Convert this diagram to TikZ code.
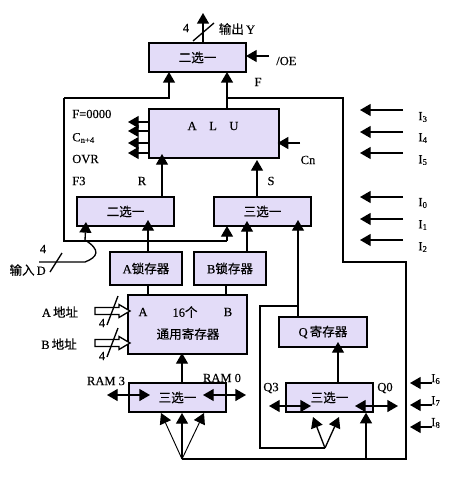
\documentclass[tikz,border=0pt]{standalone}
\usepackage{fontspec}
\setmainfont{Liberation Serif}[FakeBold=0.25]
\newfontfamily\cjk{Noto Sans CJK SC}[FakeBold=0.3]
\usetikzlibrary{arrows.meta}
\definecolor{boxfill}{RGB}{227,220,248}
\tikzset{
  blockbox/.style 2 args={draw=black,fill=boxfill,line width=1.5pt,inner sep=0pt,outer sep=0pt,
     minimum width=#1*0.75pt,minimum height=#2*0.75pt,font=\fontsize{9.4}{11}\selectfont},
  lab/.style={inner sep=0pt,font=\fontsize{9.4}{11}\selectfont},
  wire/.style={line width=1pt},
  arr/.style={wire,-{Triangle[length=8pt,width=9pt]}},
  darr/.style={wire,{Triangle[length=8pt,width=9pt]}-{Triangle[length=8pt,width=9pt]}},
  fan/.style={line width=0.7pt,-{Triangle[length=8pt,width=9pt]}},
  hollow/.style={fill=white,draw=black,line width=1pt,line join=miter},
}
\begin{document}
\begin{tikzpicture}[x=0.75pt,y=-0.75pt]
\useasboundingbox (0,0) rectangle (460,478);
% blocks
\node[blockbox={97}{29}] (top) at (197.5,57.5) {};
\node[lab] at (top.center) {\cjk 二选一};
\node[blockbox={130}{49}] (alu) at (214,133.5) {};
\node[lab] (alut) at (213,126) {A\hspace{1em}L\hspace{1em}U};
\node[blockbox={97}{29}] (muxl) at (125.5,211.5) {\cjk 二选一};
\node[blockbox={97}{29}] (muxr) at (262.5,211.5) {\cjk 三选一};
\node[blockbox={72}{33}] (la) at (146,268.5) {A{\cjk 锁存器}};
\node[blockbox={72}{33}] (lb) at (230,268.5) {B{\cjk 锁存器}};
\node[blockbox={119}{59}] (reg) at (187.5,324.5) {};
\node[lab] (rega) at (143,312) {A};
\node[lab] (reg16) at (185,312) {16{\cjk 个}};
\node[lab] (regb) at (228,312) {B};
\node[lab] (regt) at (188,334) {\cjk 通用寄存器};
\node[blockbox={97}{29}] (muxb) at (177.5,397.5) {\cjk 三选一};
\node[blockbox={88}{30}] (q) at (323,332) {Q\,{\cjk 寄存器}};
\node[blockbox={87}{29}] (muxq) at (329.5,397.5) {\cjk 三选一};
% coordinates
\coordinate (oL) at (64,98);
\coordinate (oA) at (169,98);
\coordinate (oF) at (227,98);
\coordinate (oR1) at (343,98);
\coordinate (oR2) at (343,262);
\coordinate (oR3) at (406,262);
\coordinate (oR4) at (406,459);
\coordinate (oFan) at (182,459);
\coordinate (oLb) at (64,241);
\coordinate (oMr) at (227,241);
\coordinate (oS) at (298,306);
\coordinate (oQL) at (260,306);
\coordinate (oQB) at (260,448);
\coordinate (oQF) at (325,448);
% output
\coordinate (yout) at (203,13);
\draw[arr] (top.north -| yout) -- (yout);
\coordinate (ys1) at (193,41); \coordinate (ys2) at (214,23);
\draw[wire] (ys1) -- (ys2);
\node[lab] (four1) at (186,28) {4};
\node[lab] (yl) at (237,29) {{\cjk 输出}\,Y};
\coordinate (oe) at (269,56);
\draw[arr] (oe) -- (top.east |- oe);
\node[lab,anchor=west] (oel) at (276,61) {/OE};
\node[lab] (fl) at (258,82) {F};
% F bus
\draw[arr] (oL) -- (oA) -- (top.south -| oA);
\draw[arr] (alu.north -| oF) -- (top.south -| oF);
\draw[wire,line join=miter] (oF) -- (oR1) -- (oR2) -- (oR3) -- (oR4) -- (oFan);
\draw[wire] (oL) -- (oLb) -- (oMr);
\draw[arr] (oMr) -- (muxr.south -| oMr);
% ALU
\foreach \n/\y in {a/122,b/131,c/143,d/153}{
  \coordinate (alo\n) at (128,\y);
  \draw[arr] (alu.west |- alo\n) -- (alo\n);
}
\node[lab,anchor=west] (fz) at (72,114) {F=0000};
\node[lab,anchor=west] (cn4) at (72,138) {C\textsubscript{n+4}};
\node[lab,anchor=west] (ovr) at (72,159) {OVR};
\node[lab,anchor=west] (f3) at (72,181) {F3};
\node[lab] (rl) at (142,181) {R};
\node[lab] (sl) at (271,181) {S};
\coordinate (rx) at (162,154); \coordinate (sx) at (257,160);
\draw[arr] (muxl.north -| rx) -- (rx);
\draw[arr] (muxr.north -| sx) -- (sx);
\coordinate (cni) at (300,143);
\draw[arr] (cni) -- ([xshift=-1pt]alu.east |- cni);
\node[lab] (cnl) at (308,160) {Cn};
% I lines
\foreach \n/\y/\t in {3/110/117,4/132/138,5/153/160,0/197/203,1/219/225,2/240/247}{
  \coordinate (is\n) at (403,\y); \coordinate (ie\n) at (360,\y);
  \draw[arr] (is\n) -- (ie\n);
  \node[lab] (il\n) at (423,\t) {I\textsubscript{\n}};
}
\foreach \n/\y/\t in {6/383/379,7/405/401,8/427/423}{
  \coordinate (is\n) at (432,\y); \coordinate (ie\n) at (410,\y);
  \draw[arr] (is\n) -- (ie\n);
  \node[lab,anchor=west] (il\n) at (431,\t) {I\textsubscript{\n}};
}
% muxes inputs
\coordinate (al) at (148,220); \coordinate (bl) at (247,221);
\draw[arr] (la.north -| al) -- (al);
\draw[arr] (lb.north -| bl) -- (bl);
\draw[wire] (la.south -| al) -- (reg.north -| al);
\coordinate (bl2) at (226,290);
\draw[wire] (lb.south -| bl2) -- (reg.north -| bl2);
% D input
\coordinate (d0) at (39,262); \coordinate (d1) at (85,262); \coordinate (d2) at (85,240); \coordinate (d3) at (86,222);
\draw[arr] (d0) -- (d1) .. controls (98,257) and (101,250) .. (d2) -- (d3);
\coordinate (ds1) at (50,272); \coordinate (ds2) at (62,253);
\draw[wire] (ds1) -- (ds2);
\node[lab] (four2) at (43,249) {4};
\node[lab,anchor=east] (dl) at (46,270) {{\cjk 输入}\,D};
% address
\node[lab] (adra) at (60,312) {A\,{\cjk 地址}};
\node[lab] (adrb) at (59,344) {B\,{\cjk 地址}};
\coordinate (ha) at (95,311); \coordinate (hb) at (95,343);
\foreach \c in {ha,hb}{
  \draw[hollow] (\c) ++(0,-3.5) -- ++(24,0) -- ++(0,-3) -- ++(11,6.5) -- ++(-11,6.5) -- ++(0,-3) -- ++(-24,0) -- cycle;
}
\coordinate (sa1) at (107,325); \coordinate (sa2) at (118,296);
\coordinate (sb1) at (107,357); \coordinate (sb2) at (118,328);
\draw[wire] (sa1) -- (sa2);
\draw[wire] (sb1) -- (sb2);
\node[lab] (four3) at (102,323) {4};
\node[lab] (four4) at (102,356) {4};
% RAM mux
\coordinate (upb) at (182,353);
\draw[arr] (muxb.north -| upb) -- (upb);
\node[lab] (r3) at (106,381) {RAM 3};
\node[lab] (r0) at (222,378) {RAM 0};
\coordinate (bl1) at (107,395); \coordinate (bl3) at (150,395);
\coordinate (br1) at (203,395); \coordinate (br3) at (246,395);
\draw[darr] (bl1) -- (bl3);
\draw[darr] (br1) -- (br3);
\coordinate (fa) at (161,413); \coordinate (fb) at (182,413); \coordinate (fc) at (204,413);
\draw[fan] (oFan) -- (fa);
\draw[wire,-{Triangle[length=8pt,width=9pt]}] (oFan) -- (fb);
\draw[fan] (oFan) -- (fc);
% Q side
\coordinate (rin) at (298,220);
\draw[arr] (q.north -| oS) -- (rin);
\draw[wire,line join=miter] (oS) -- (oQL) -- (oQB) -- (oQF);
\coordinate (qup) at (338,342);
\draw[arr] (muxq.north -| qup) -- (qup);
\node[lab] (q3) at (271,388) {Q3};
\node[lab] (q0) at (385,388) {Q0};
\coordinate (ql1) at (269,406); \coordinate (ql3) at (311,406);
\coordinate (qr1) at (355,406); \coordinate (qr3) at (398,406);
\draw[darr] (ql1) -- (ql3);
\draw[darr] (qr1) -- (qr3);
\coordinate (qfa) at (313,417); \coordinate (qfb) at (339,417);
\draw[arr] (oQF) -- (qfa);
\draw[arr] (oQF) -- (qfb);
\coordinate (qin) at (366,459);
\draw[arr] (qin) -- ([yshift=-0.5pt]muxq.south -| qin);
\end{tikzpicture}
\end{document}
